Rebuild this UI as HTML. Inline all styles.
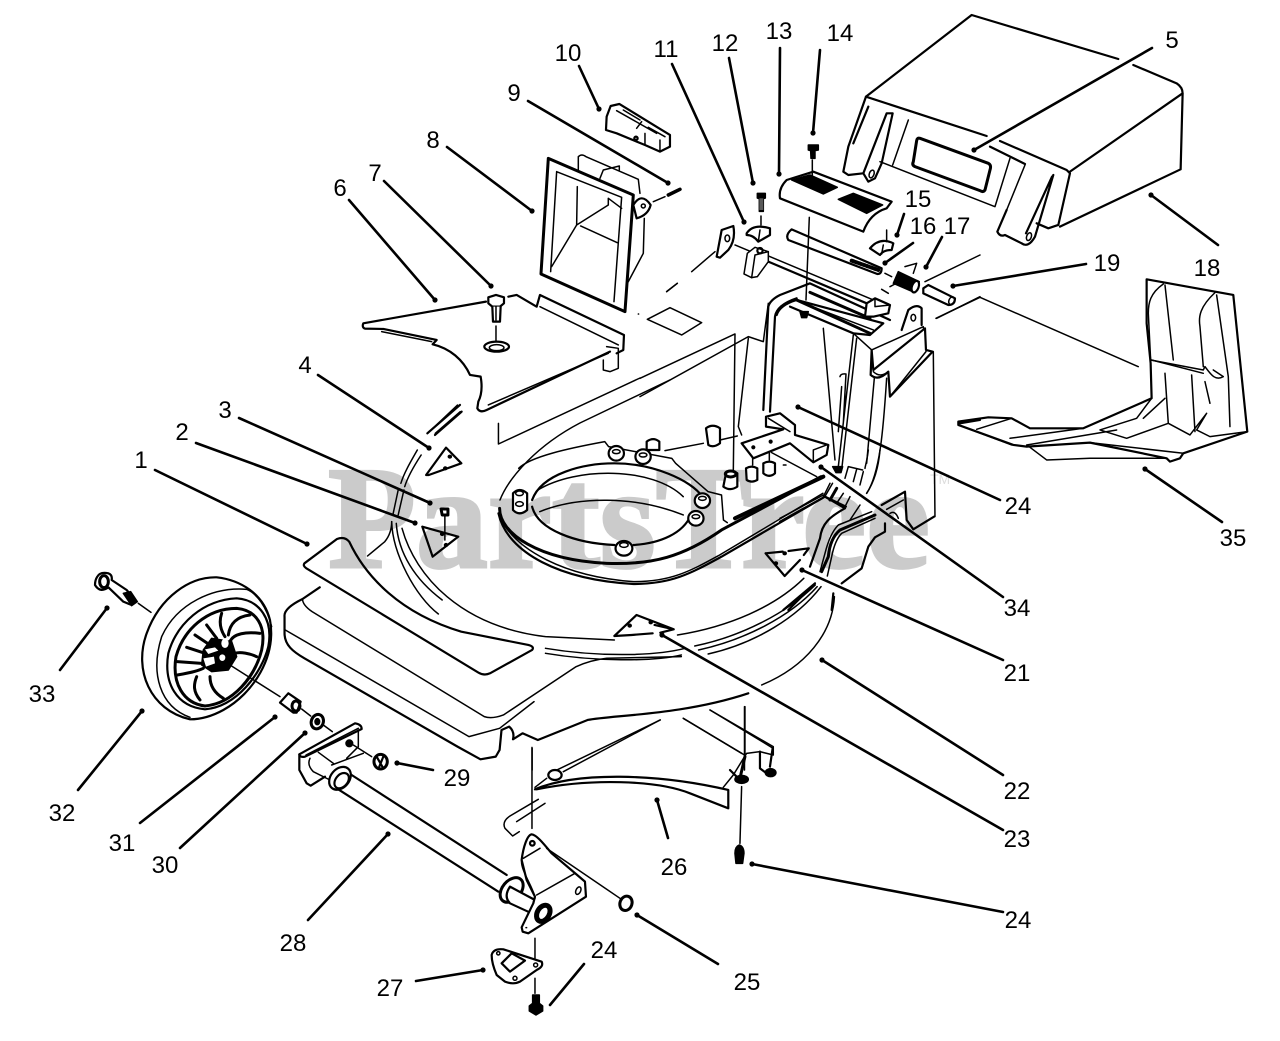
<!DOCTYPE html>
<html><head><meta charset="utf-8"><style>
html,body{margin:0;padding:0;background:#fff}
svg{display:block}
.t{font:24px "Liberation Sans",sans-serif;fill:#000;text-anchor:middle}
.l path,.l ellipse,.l circle,.l rect,.l line{vector-effect:non-scaling-stroke}
.l{fill:none;stroke:#000;stroke-width:1.5;stroke-linecap:round;stroke-linejoin:round}
.w{fill:#fff}.b{fill:#000}.k{stroke-width:3}.m{stroke-width:2.2}
.ld line{stroke:#000;stroke-width:2.6;stroke-linecap:round}
.ld circle{fill:#000}
</style></head><body>
<svg width="1280" height="1041" viewBox="0 0 1280 1041" xmlns="http://www.w3.org/2000/svg">
<rect width="1280" height="1041" fill="#fff"/>
<text x="328" y="567" font-family="Liberation Serif,serif" font-weight="bold" font-size="146" fill="#cbcbcb" stroke="#cbcbcb" stroke-width="3" textLength="602" lengthAdjust="spacingAndGlyphs">PartsTree</text>
<text x="930" y="484" font-family="Liberation Sans,sans-serif" font-size="14" fill="#dddddd">TM</text>

<!-- GROUP A: panel 6, chute 8, part 10 -->
<g class="l" transform="translate(340,90) scale(.3333)">
<path class="k" d="M625,205L880,315L855,665L603,552Z"/>
<path d="M650,245L845,322L822,635M650,245L632,545M712,290L710,405M805,325V345L710,405L635,530M805,325L845,355M722,408L832,458"/>
<path d="M715,240V200Q725,190 738,200L895,268L900,310M780,265L790,240L838,228V240M913,385L910,490L865,575"/>
<path class="m w" d="M880,345Q905,305 932,345Q925,375 890,385Z"/><circle cx="910" cy="348" r="6"/>
<path d="M940,335L975,320"/><path d="M985,315L1020,298" style="stroke-width:3.5"/>
<path class="m" d="M438,635L70,700Q65,712 75,716L130,717L290,750L278,763C330,775 370,810 390,855L422,860Q430,905 415,935L412,955Q420,970 440,960L810,785M505,620L530,615L590,650L600,615L852,735L850,780L830,790"/>
<path d="M600,650L835,765M445,945L805,790M800,770L835,775V835L810,845L790,840V810M125,725L275,755"/>
<path class="m w" d="M445,622L468,615L492,622V640L480,650H457L445,640Z"/><path class="m w" d="M457,650L459,695H480L482,650"/><path d="M468,650V690"/>
<path d="M468,708V755"/><ellipse cx="470" cy="770" rx="37" ry="15" class="m"/><ellipse cx="470" cy="773" rx="22" ry="9"/>
<path d="M980,605L1012,580M895,672h1"/>
<path class="m" d="M812,48L838,42L990,135V170L960,185L915,165L830,130L798,120L800,80Z"/>
<path d="M830,62L950,130M850,60L900,90M925,112L975,140M915,130V165M960,150V185M905,95L890,115"/><circle cx="888" cy="145" r="5" class="m"/>
<path class="m" d="M262,1030L360,945M285,1035L365,965"/>
</g>

<!-- GROUP B: hinge assembly, housing -->
<g class="l" transform="translate(640,130) scale(.3333)">
<path d="M225,365L155,425M112,460L80,485M22,568L90,533L185,578L125,615Z"/>
<path class="m w" d="M230,380L245,300L280,288Q288,330 265,360L240,383Z"/><ellipse cx="262" cy="325" rx="7" ry="10"/>
<path d="M285,345L345,370M385,378L700,510"/><path class="m" d="M385,395L680,520"/>
<path class="w" d="M312,432L322,370L345,352L385,365V395L352,440L335,443Z"/><path d="M345,375L385,365M345,375L335,443"/><circle cx="360" cy="362" r="8" class="m"/>
<path class="m w" d="M320,310Q340,280 390,295V315L355,335Q340,315 320,315Z"/><path d="M360,300L355,335M363,258V285"/>
<path class="b" d="M352,190h24v14l-6,2v38h-12v-38l-6,-2z"/><rect x="358" y="205" width="12" height="35" fill="#fff" stroke="none" opacity=".35"/>
<path class="m" d="M455,298L725,415Q725,432 712,432L445,330Q435,315 455,298Z"/>
<path style="stroke-width:4;stroke-dasharray:2 2" d="M635,392L715,420" />
<path class="m w" d="M440,150L520,125L755,215L740,235Q690,250 670,305L420,205Q415,175 440,150Z"/>
<path class="b" d="M455,150L510,135L592,172L550,192Z M595,208L640,190L728,225L680,250Z"/>
<path d="M517,90V135M508,262L498,510"/>
<path class="b" d="M505,45h30v15l-10,2v23h-12l-1,-23l-7,-2z"/><circle cx="521" cy="8" r="3" class="b"/>
<path class="m w" d="M690,355Q720,320 760,340L755,360Q730,360 720,375Z"/><path d="M740,300V335M730,345L725,372"/>
<path d="M735,430L755,440M795,410L830,400L820,430M725,478L745,490M750,470L765,462M855,455L1020,375M890,565L1020,500"/>
<path class="b" d="M775,425L838,455L825,488L760,460Z"/><ellipse cx="826" cy="470" rx="10" ry="18" fill="#fff" class="m" transform="rotate(20 826 470)"/>
<path class="m w" d="M850,475L865,465L945,505Q945,525 925,525L850,490Z"/><ellipse cx="935" cy="512" rx="8" ry="12" transform="rotate(25 935 512)"/>
<path class="m" d="M370,840L385,530Q390,510 420,495L510,460L750,570M390,845L405,560Q410,525 470,505"/>
<path class="m" d="M410,555Q420,525 470,510L730,580L690,615L640,610L450,530"/>
<path class="k" d="M510,487L690,565M470,510L690,610"/><path d="M490,520L700,600"/><path class="b" d="M480,545h25l-5,18h-15z"/>
<path class="w m" d="M680,520L705,505L750,525L745,550L700,560L675,560Z"/><path d="M705,505L705,530L750,525"/>
<path d="M640,615L595,1010M650,625L605,1020M550,595L585,990M605,770L595,905M600,740Q602,730 618,732L610,880"/>
<path class="m w" d="M785,600L805,540Q830,520 845,535V585"/><ellipse cx="820" cy="563" rx="7" ry="10"/>
<path d="M640,610L695,660L850,590L858,660L880,665L885,1160"/>
<path class="w m" d="M695,660L692,735Q715,755 745,725L750,800L878,665L858,660L855,595L700,720Z"/><path d="M700,725Q720,745 745,725M858,665L750,800"/>
<path d="M703,745L680,1000M740,745C730,900 720,1030 680,1090"/>
<path d="M285,612L280,1020M325,625L295,890L305,915M0,745L285,612M0,800L325,620L370,635L385,520"/>
<path class="w m" d="M305,940L430,898L378,890V860L420,850L465,885V915L565,945L560,975L520,997L450,940L340,985Z"/>
<path d="M520,960L560,945M520,960V997M385,865L450,905"/><circle cx="340" cy="952" r="4" class="b"/><circle cx="392" cy="935" r="4" class="b"/>
<g class="w m"><path d="M198,895Q218,880 240,895V940Q220,955 205,945Z"/><path d="M258,1030Q270,1015 292,1030V1070Q270,1085 250,1070Z"/><path d="M318,1015Q335,1005 352,1015V1050Q335,1060 320,1050Z"/><path d="M370,1000Q388,990 405,1000V1030Q388,1045 370,1030Z"/><path d="M20,935Q40,920 58,935V960H20Z"/></g>
<ellipse cx="272" cy="1032" rx="16" ry="9" class="k"/>
<path d="M75,962L190,940M240,930L292,918M338,985V1005M388,965V990"/>
<path d="M395,968L530,1040M430,1005h8"/>
<path style="stroke-width:4" d="M285,1165L550,1040"/>
<path class="b" d="M578,1010h30l-5,18h-15z"/>
<path d="M615,1045L625,1010L668,1020M640,1055L650,1018M660,1065L670,1025"/>
<path class="m" d="M960,880L1020,870"/>
</g>

<!-- GROUP C: deck -->
<g class="l" transform="translate(270,400) scale(.38265,.3333)">
<path class="m" d="M90,490L175,417Q195,408 207,425C250,530 340,640 500,695L675,735Q692,740 685,750L575,820Q560,828 545,818L95,505Q85,497 90,490Z"/>
<path d="M318,365C320,460 380,590 440,642M330,370C335,460 380,540 450,600M345,385C380,530 500,680 720,710L900,720M1065,705C1200,680 1320,620 1395,535"/>
<path d="M490,15L412,100M497,35L432,100M385,150C365,190 350,220 342,250M395,165C375,200 360,230 352,260M335,270L322,340M350,270L335,345M255,468L300,425Q318,400 318,365"/>
<path d="M720,745C850,770 1000,770 1085,745M720,760C850,785 1000,785 1075,765M1110,738C1230,710 1350,640 1425,555M1120,750C1240,720 1360,650 1430,560M1145,762C1270,730 1380,650 1440,560"/>
<path class="m" d="M130,562L85,597Q35,625 38,650V700C38,735 60,755 90,775L490,1040L550,1078L590,1070L600,1050L605,990L625,980Q640,995 635,1018L660,1000L700,1020L830,960C900,945 1080,945 1250,880"/>
<path d="M85,597Q85,615 110,635L560,950Q580,958 610,945L800,800Q840,780 880,775L1075,770M40,690L520,1010L600,985L690,905"/>
<path d="M1285,855C1400,800 1470,700 1475,590"/>
<path d="M601,300C625,230 700,135 810,69L1045,-60"/>
<path d="M650,205C680,170 780,145 875,125L885,140L1050,175L1060,190L1145,275L1180,285L1185,360L1195,368"/>
<path class="k" d="M600,325C600,400 700,480 880,490C1000,495 1080,470 1180,390L1440,230"/>
<path class="m" d="M597,340C620,460 760,540 950,552C1050,552 1100,520 1180,470L1450,290L1505,320"/>
<path d="M600,350C640,450 770,530 950,545C1050,545 1100,512 1175,465L1445,280M1450,290L1470,250"/>
<path class="m" d="M685,300C710,220 820,190 900,190C1000,190 1100,240 1130,290M685,320C700,390 800,430 900,435M950,435C1020,430 1080,400 1100,345"/>
<path d="M700,270C800,200 1000,200 1080,290M705,335C800,290 950,285 1080,345"/>
<g class="w m"><ellipse cx="905" cy="160" rx="20" ry="22"/><ellipse cx="975" cy="170" rx="20" ry="22"/><path d="M635,280Q652,260 672,280V330Q652,350 635,330Z"/><ellipse cx="1130" cy="302" rx="20" ry="22"/><ellipse cx="1113" cy="355" rx="20" ry="22"/><ellipse cx="925" cy="445" rx="22" ry="22"/></g>
<g><ellipse cx="905" cy="155" rx="10" ry="6"/><ellipse cx="975" cy="165" rx="10" ry="6"/><ellipse cx="652" cy="280" rx="10" ry="7"/><ellipse cx="652" cy="312" rx="10" ry="7"/><ellipse cx="1130" cy="295" rx="10" ry="6"/><ellipse cx="1113" cy="350" rx="10" ry="6"/><ellipse cx="925" cy="435" rx="11" ry="7"/></g>
<path class="m" d="M408,225L460,143L500,190L415,225ZM398,380L492,410L425,470Z"/>
<circle cx="470" cy="170" r="4" class="b"/><circle cx="458" cy="205" r="4" class="b"/><circle cx="450" cy="402" r="4" class="b"/><circle cx="460" cy="435" r="4" class="b"/>
<path d="M457,350V420"/><path class="k" d="M447,327H465V345H450Z"/>
<path class="m" d="M900,708L958,645L1055,688L1005,675M1055,688L1020,698M1000,700L945,705L900,708"/><circle cx="940" cy="677" r="4" class="b"/><circle cx="995" cy="667" r="4" class="b"/>
<path class="m" d="M1295,460L1345,528L1385,480M1295,460L1340,455M1355,453L1408,445L1395,465"/><circle cx="1345" cy="460" r="4" class="b"/><circle cx="1322" cy="490" r="4" class="b"/>
<path d="M597,70V132L967,-66"/>
<path d="M1080,955L1240,1065M1150,930L1315,1045M1240,920V1110"/>
<path d="M1020,960L750,1110M685,1045V1110"/>
</g>

<!-- right deck edge -->
<g class="l" transform="translate(780,450) scale(.3333)">
<path class="m" d="M0,215L135,140L195,175C150,200 125,220 120,265L90,350"/>
<path d="M0,205L130,135M150,100L130,140M190,130L170,160M210,140L195,170"/>
<path class="k" d="M170,115L150,150"/>
<path class="k" d="M285,195L180,240Q150,265 145,320L125,365"/>
<path d="M275,185L175,225Q150,250 135,310L120,365M285,205L185,250Q165,270 155,320L142,378"/>
<path d="M240,165L210,210"/>
<path class="m" d="M315,220V245L285,262L265,290L245,355L185,400"/>
<path class="m" d="M305,165L375,125L380,210L400,238L462,200"/>
<path d="M320,178L370,150M330,190Q345,180 355,205M265,0C260,40 255,50 255,55M300,0C295,60 280,100 260,130"/>
<path class="m" d="M105,400L10,480M95,410L25,480M160,430L155,480"/>
</g>

<!-- left axle bracket -->
<g class="l" transform="translate(290,715) scale(.3333)">
<path class="m w" d="M28,118L195,25Q215,28 215,42L45,125Q30,128 28,118Z"/>
<path d="M48,120L205,40"/>
<path class="m" d="M28,118V165L50,205L62,212L105,185"/>
<path d="M205,45V95L170,130M85,112L130,145M125,150L220,115M60,130Q50,150 70,170L120,195"/>
<circle cx="178" cy="85" r="10" class="b"/>
<path d="M190,90L245,125"/>
</g>

<!-- GROUP D: wheel -->
<g class="l" transform="translate(90,560) scale(.3333)">
<path class="m w" d="M300,478C180,450 130,330 170,220C210,110 300,50 380,52C450,60 520,100 540,180C560,290 490,400 400,450C360,472 330,478 300,478Z"/>
<path d="M300,472C210,440 180,340 215,230C260,130 370,80 470,88C500,100 530,140 545,200"/>
<path class="m" d="M345,448C260,440 220,370 235,280C260,190 340,120 440,115C510,120 550,180 535,260C515,340 440,440 345,448Z"/>
<path class="k" d="M345,438C280,430 245,370 258,290C280,210 350,145 440,145C500,150 530,200 515,270C495,350 430,430 345,438Z"/>
<path class="k" d="M350,195L380,235M395,160C385,190 395,215 405,230M510,220C470,215 430,220 420,245M480,165C440,170 420,190 415,225M500,290C480,280 450,275 435,280M315,225L360,255M290,262L345,280M262,305L335,310M262,345C290,340 320,335 340,325M320,350C310,375 310,395 330,420M360,350C360,380 375,400 400,415"/>
<path class="b" d="M365,235L425,245L440,290L415,330L365,335L335,315L340,270Z"/>
<ellipse cx="405" cy="250" rx="11" ry="14" fill="#fff" stroke="none"/><ellipse cx="397" cy="293" rx="9" ry="10" fill="#fff" stroke="none"/>
<path class="w" stroke="none" d="M345,268L375,262L385,272L355,282ZM340,295L372,290L375,310L348,320Z"/>
<path d="M420,315L570,410M145,130L183,157"/>
<path class="m w" d="M22,50Q30,35 55,40Q68,45 65,60L110,90L135,120L125,135L100,125L55,82Q30,100 15,75Q15,60 22,50Z"/>
<path class="b" d="M100,100L122,95L142,125L125,137Z"/><ellipse cx="42" cy="65" rx="13" ry="18" class="k"/>
<path class="m w" d="M570,428L595,400L632,425L620,458L610,458Z"/><ellipse cx="618" cy="438" rx="12" ry="15" class="k"/>
<path d="M635,447L662,468M700,495L727,515"/>
<ellipse cx="682" cy="485" rx="18" ry="22" class="k" transform="rotate(20 682 485)"/><ellipse cx="682" cy="485" rx="7" ry="9" class="b"/>
<ellipse cx="872" cy="605" rx="20" ry="22" class="k"/><path class="m" d="M860,590L880,625M880,590L868,620"/>
</g>

<!-- GROUP E: axle etc -->
<g class="l" transform="translate(290,700) scale(.3333)">
<path class="m" d="M185,225L650,525M140,265L625,575"/>
<ellipse cx="150" cy="235" rx="28" ry="38" class="w m" transform="rotate(40 150 235)"/><ellipse cx="155" cy="242" rx="18" ry="26" class="w m" transform="rotate(40 155 242)"/>
<ellipse cx="665" cy="570" rx="28" ry="42" class="w k" transform="rotate(40 665 570)"/><path class="w m" d="M660,560L735,600L725,640L660,610Q640,590 660,560Z"/>
<path class="w m" d="M695,480C700,440 712,405 725,403C740,405 760,430 785,460L885,545L888,590L715,700L698,695L695,682L730,610L735,590L710,540Z"/>
<path d="M700,475L750,445M740,585L855,520M695,480C690,510 735,570 735,595"/><circle cx="727" cy="430" r="7" class="m"/><ellipse cx="865" cy="572" rx="7" ry="12" transform="rotate(25 865 572)"/>
<ellipse cx="760" cy="640" rx="18" ry="26" class="w" style="stroke-width:5" transform="rotate(30 760 640)"/>
<path d="M708,683h2M770,445L990,595M735,715V775M735,835V880M726,142V385M745,298L660,348Q635,365 645,385L668,408L688,395M765,310L680,365"/>
<ellipse cx="1008" cy="610" rx="18" ry="22" class="k" transform="rotate(20 1008 610)"/>
<path class="m w" d="M605,765Q610,745 640,748L755,785Q762,800 740,810L690,845Q670,855 645,845L620,825Q605,790 605,765Z"/><path class="m" d="M635,790L665,760L705,782L660,815Z"/><circle cx="737" cy="795" r="6"/><circle cx="675" cy="835" r="6"/><circle cx="625" cy="760" r="5"/>
<path class="b" d="M728,885h20v25l10,8v15l-20,12l-20,-12v-15l10,-8z"/>
<path class="m" d="M735,268C860,215 1100,220 1315,270V325L1200,280C1100,240 900,235 740,268"/>
<path d="M735,262L770,235M820,215L1110,60M1180,55L1355,160M1260,30L1450,140V165L1410,155L1370,160L1330,225L1300,262"/>
<ellipse cx="795" cy="225" rx="20" ry="15" class="w m"/>
<path class="m" d="M1410,155V205L1430,220M1448,145L1440,200"/><ellipse cx="1442" cy="218" rx="16" ry="12" class="b"/><ellipse cx="1355" cy="238" rx="20" ry="12" class="b"/>
<path class="k" d="M1365,170L1350,235"/><path d="M1365,20V160M1355,260L1350,430"/>
<path class="b" d="M1335,460Q1335,440 1348,435Q1362,440 1362,460L1358,490H1338Z"/>
<path class="m" d="M1320,210L1345,235"/>
</g>

<!-- GROUP F: bag and deflector -->
<g class="l" transform="translate(840,10) scale(.3333)">
<path class="m" d="M835,147L395,15L78,260L440,378M480,393L680,480L690,490L655,645L625,655L590,640M880,165L1010,220Q1028,232 1028,250L1022,478L660,650M1028,250L690,485"/>
<path class="m" d="M78,260L25,410M85,290L40,400M25,410L10,485L25,495L70,490L85,515L105,505L125,460L158,310L140,310L70,490"/>
<path d="M120,455L465,590M205,330L158,465M510,445L465,590M555,465L500,600"/><path class="m" d="M450,410L555,462"/>
<ellipse cx="95" cy="492" rx="7" ry="12" transform="rotate(20 95 492)"/>
<path class="m" d="M500,600L472,665Q480,682 495,675L545,700Q565,715 585,680L640,495M558,670L636,500"/><ellipse cx="567" cy="680" rx="7" ry="12" transform="rotate(20 567 680)"/>
<path class="k" d="M240,385L445,460Q455,465 450,480L435,540Q430,548 420,542L225,470Q215,465 220,455L230,392Q232,382 240,385Z"/>
<path d="M420,862L288,925M420,862L895,1070"/>
<path class="m" d="M920,808L1180,855L1222,1265L1030,1330L1020,1345L990,1355L980,1345L750,1298L560,1310L520,1305L355,1245V1235L445,1222L515,1225L570,1255L730,1255L935,1165L932,1060L920,940Z"/>
<path d="M970,822C930,850 925,880 925,910L932,1050L1090,1080L1095,1070C1110,1090 1125,1115 1150,1100L1120,1080M975,825L1000,1050M1125,848C1080,890 1075,920 1080,950L1090,1070M1130,855L1165,1100L1170,1250"/>
<path d="M935,1050L1090,1090M975,1090L985,1240L1050,1275L1100,1210L1070,1260L1110,1280L1222,1265M1055,1095L1065,1265M1095,1115L1110,1180" />
<path d="M935,1165L890,1225L780,1260L860,1285L985,1240M975,1165L910,1225M355,1245L515,1305M410,1258L515,1225M510,1285L730,1255M560,1305L830,1260M570,1312L620,1350L750,1345L980,1345M750,1298L1030,1330"/>
</g>

<!-- LEADERS -->
<g class="ld">
<line x1="155" y1="470" x2="307" y2="544"/><circle cx="307" cy="544" r="2.6"/>
<line x1="196" y1="443" x2="415" y2="523"/><circle cx="415" cy="523" r="2.6"/>
<line x1="239" y1="418" x2="430" y2="503"/><circle cx="430" cy="503" r="2.6"/>
<line x1="318" y1="375" x2="429" y2="448"/><circle cx="429" cy="448" r="2.6"/>
<line x1="1152" y1="48" x2="974" y2="150"/><circle cx="974" cy="150" r="2.6"/>
<line x1="349" y1="200" x2="435" y2="300"/><circle cx="435" cy="300" r="2.6"/>
<line x1="384" y1="181" x2="491" y2="286"/><circle cx="491" cy="286" r="2.6"/>
<line x1="447" y1="147" x2="532" y2="211"/><circle cx="532" cy="211" r="2.6"/>
<line x1="528" y1="101" x2="668" y2="183"/><circle cx="668" cy="183" r="2.6"/>
<line x1="579" y1="66" x2="599" y2="109"/><circle cx="599" cy="109" r="2.6"/>
<line x1="672" y1="64" x2="744" y2="222"/><circle cx="744" cy="222" r="2.6"/>
<line x1="729" y1="58" x2="753" y2="183"/><circle cx="753" cy="183" r="2.6"/>
<line x1="780" y1="48" x2="779" y2="174"/><circle cx="779" cy="174" r="2.6"/>
<line x1="820" y1="50" x2="813" y2="133"/><circle cx="813" cy="133" r="2.6"/>
<line x1="904" y1="214" x2="897" y2="235"/><circle cx="897" cy="235" r="2.6"/>
<line x1="913" y1="243" x2="885" y2="263"/><circle cx="885" cy="263" r="2.6"/>
<line x1="942" y1="237" x2="926" y2="267"/><circle cx="926" cy="267" r="2.6"/>
<line x1="1218" y1="245" x2="1151" y2="195"/><circle cx="1151" cy="195" r="2.6"/>
<line x1="1086" y1="264" x2="953" y2="286"/><circle cx="953" cy="286" r="2.6"/>
<line x1="1003" y1="660" x2="802" y2="570"/><circle cx="802" cy="570" r="2.6"/>
<line x1="1003" y1="775" x2="822" y2="660"/><circle cx="822" cy="660" r="2.6"/>
<line x1="1003" y1="830" x2="662" y2="635"/><circle cx="662" cy="635" r="2.6"/>
<line x1="1000" y1="500" x2="798" y2="407"/><circle cx="798" cy="407" r="2.6"/>
<line x1="1003" y1="912" x2="752" y2="864"/><circle cx="752" cy="864" r="2.6"/>
<line x1="584" y1="964" x2="550" y2="1005"/>
<line x1="718" y1="964" x2="637" y2="915"/><circle cx="637" cy="915" r="2.6"/>
<line x1="668" y1="838" x2="657" y2="800"/><circle cx="657" cy="800" r="2.6"/>
<line x1="416" y1="981" x2="483" y2="970"/><circle cx="483" cy="970" r="2.6"/>
<line x1="308" y1="920" x2="388" y2="834"/><circle cx="388" cy="834" r="2.6"/>
<line x1="433" y1="770" x2="397" y2="763"/><circle cx="397" cy="763" r="2.6"/>
<line x1="180" y1="848" x2="305" y2="733"/><circle cx="305" cy="733" r="2.6"/>
<line x1="140" y1="823" x2="275" y2="717"/><circle cx="275" cy="717" r="2.6"/>
<line x1="78" y1="790" x2="142" y2="711"/><circle cx="142" cy="711" r="2.6"/>
<line x1="60" y1="670" x2="107" y2="608"/><circle cx="107" cy="608" r="2.6"/>
<line x1="1003" y1="597" x2="821" y2="467"/><circle cx="821" cy="467" r="2.6"/>
<line x1="1222" y1="522" x2="1145" y2="469"/><circle cx="1145" cy="469" r="2.6"/>
</g>

<!-- LABELS -->
<g>
<text class="t" x="141" y="468">1</text>
<text class="t" x="182" y="440">2</text>
<text class="t" x="225" y="418">3</text>
<text class="t" x="305" y="373">4</text>
<text class="t" x="1172" y="48">5</text>
<text class="t" x="340" y="196">6</text>
<text class="t" x="375" y="181">7</text>
<text class="t" x="433" y="148">8</text>
<text class="t" x="514" y="101">9</text>
<text class="t" x="568" y="61">10</text>
<text class="t" x="666" y="57">11</text>
<text class="t" x="725" y="51">12</text>
<text class="t" x="779" y="39">13</text>
<text class="t" x="840" y="41">14</text>
<text class="t" x="918" y="207">15</text>
<text class="t" x="923" y="234">16</text>
<text class="t" x="957" y="234">17</text>
<text class="t" x="1207" y="276">18</text>
<text class="t" x="1107" y="271">19</text>
<text class="t" x="1017" y="681">21</text>
<text class="t" x="1017" y="799">22</text>
<text class="t" x="1017" y="847">23</text>
<text class="t" x="1018" y="514">24</text>
<text class="t" x="1018" y="928">24</text>
<text class="t" x="604" y="958">24</text>
<text class="t" x="747" y="990">25</text>
<text class="t" x="674" y="875">26</text>
<text class="t" x="390" y="996">27</text>
<text class="t" x="293" y="951">28</text>
<text class="t" x="457" y="786">29</text>
<text class="t" x="165" y="873">30</text>
<text class="t" x="122" y="851">31</text>
<text class="t" x="62" y="821">32</text>
<text class="t" x="42" y="702">33</text>
<text class="t" x="1017" y="616">34</text>
<text class="t" x="1233" y="546">35</text>
</g>
</svg>
</body></html>
